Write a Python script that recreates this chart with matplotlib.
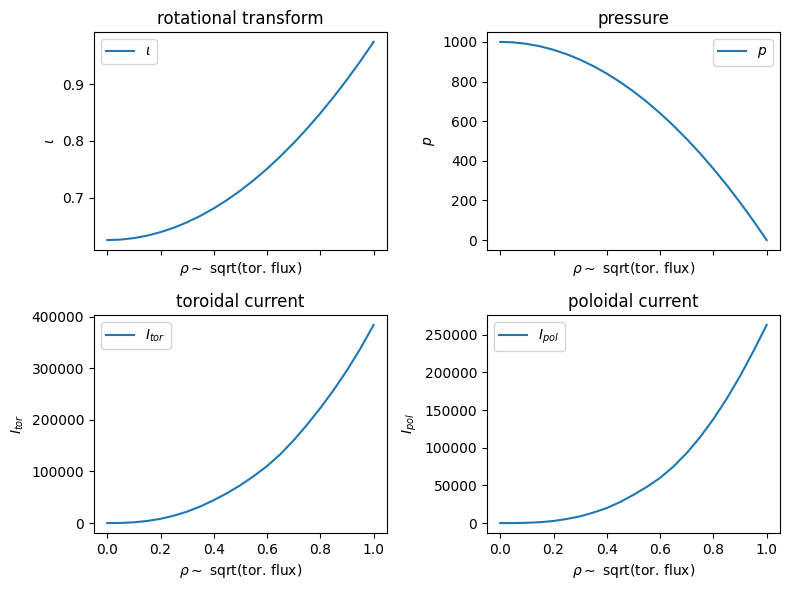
import matplotlib
matplotlib.use("Agg")
import matplotlib.pyplot as plt

rho = [0.0, 0.05, 0.1, 0.15, 0.2, 0.25, 0.3, 0.35, 0.4, 0.45, 0.5,
       0.55, 0.6, 0.65, 0.7, 0.75, 0.8, 0.85, 0.9, 0.95, 1.0]
iota = [0.625, 0.6259, 0.6285, 0.6329, 0.639, 0.6469, 0.6565, 0.6679, 0.681, 0.6959, 0.7125,
        0.7309, 0.751, 0.7729, 0.7965, 0.8219, 0.849, 0.8779, 0.9085, 0.9409, 0.975]
pressure = [1000, 997.5, 990, 977.5, 960, 937.5, 910, 877.5, 840, 797.5, 750,
            697.5, 640, 577.5, 510, 437.5, 360, 277.5, 190, 97.5, 0]
i_tor = [0, 300, 1500, 4100, 8300, 14300, 22300, 32300, 44500, 58000, 73500,
         91000, 110500, 133500, 160500, 190500, 223000, 258000, 296000, 338000, 384000]
i_pol = [0, 60, 400, 1200, 2800, 5500, 9000, 14000, 20000, 28000, 37500,
         48000, 60000, 75000, 93000, 114000, 138000, 165000, 195000, 228000, 263000]

titles = ["rotational transform", "pressure", "toroidal current", "poloidal current"]
labels = [r"$\iota$", r"$p$", r"$I_{tor}$", r"$I_{pol}$"]
legend_locs = ["upper left", "upper right", "upper left", "upper left"]
series = [iota, pressure, i_tor, i_pol]
xlabel = r"$\rho\sim$ sqrt(tor. flux)"

fig, axes = plt.subplots(2, 2, figsize=(7.89, 5.9), dpi=100, sharex=True)
for ax, t, lab, loc, y in zip(axes.flat, titles, labels, legend_locs, series):
    ax.plot(rho, y, label=lab)
    ax.set_title(t)
    ax.set_ylabel(lab)
    ax.set_xlabel(xlabel)
    ax.legend(loc=loc)
for ax in axes[0]:
    ax.tick_params(labelbottom=False)
fig.subplots_adjust(left=0.119, right=0.9886, top=0.9458, bottom=0.0966,
                    wspace=0.341, hspace=0.298)
fig.savefig("out.png", dpi=100)
